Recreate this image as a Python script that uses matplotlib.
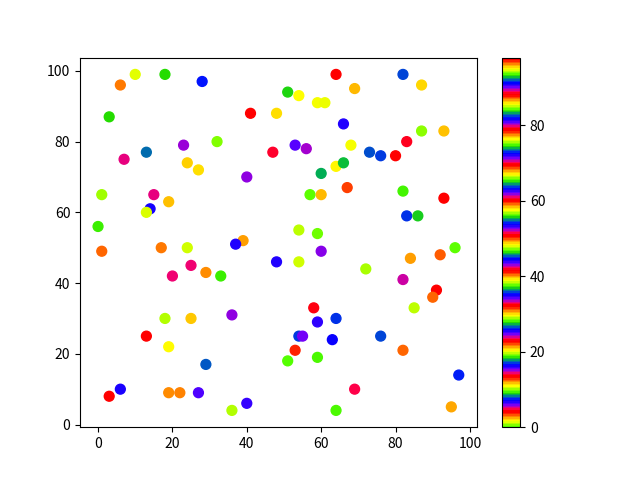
import numpy as np
import matplotlib
matplotlib.use('Agg')
import matplotlib.pyplot as plt

plt.rcParams['font.family'] = ['Noto Sans CJK SC', 'DejaVu Sans']

# 点的坐标
x = [6, 10, 18, 28, 3, 41, 7, 13, 23, 32,
     24, 27, 40, 1, 15, 19, 14, 13, 0, 51,
     54, 59, 61, 64, 69, 82, 87, 48, 66, 87,
     93, 47, 53, 56, 68, 73, 76, 80, 83, 64,
     66, 60, 67, 57, 60, 82, 93, 83, 86, 54,
     59, 96, 39, 1, 17, 24, 37, 25, 20, 29,
     33, 18, 25, 36, 13, 19, 29, 3, 6, 19,
     22, 27, 36, 40, 48, 54, 60, 72, 84, 92,
     82, 91, 90, 85, 58, 59, 64, 54, 55, 63,
     76, 53, 82, 51, 59, 97, 69, 64, 95]
y = [96, 99, 99, 97, 87, 88, 75, 77, 79, 80,
     74, 72, 70, 65, 65, 63, 61, 60, 56, 94,
     93, 91, 91, 99, 95, 99, 96, 88, 85, 83,
     83, 77, 79, 78, 79, 77, 76, 76, 80, 73,
     74, 71, 67, 65, 65, 66, 64, 59, 59, 55,
     54, 50, 52, 49, 50, 50, 51, 45, 42, 43,
     42, 30, 30, 31, 25, 22, 17, 8, 10, 9,
     9, 9, 4, 6, 46, 46, 49, 44, 47, 48,
     41, 38, 36, 33, 33, 29, 30, 25, 25, 24,
     25, 21, 21, 18, 19, 14, 10, 4, 5]
# 颜色值
c = [68.4, 48.0, 27.7, 82.2, 74.3, 98.0, 33.0, 63.95, 43.1, 93.8,
     20.7, 76.6, 15.0, 57.0, 79.9, 11.6, 63.0, 29.3, 37.5, 55.6,
     11.0, 85.6, 66.8, 97.3, 77.0, 35.75, 48.8, 30.1, 72.0, 19.5,
     58.2, 60.8, 34.1, 24.4, 38.7, 54.55, 17.05, 79.0, 42.0, 48.5,
     46.2, 8.7, 87.4, 65.7, 77.3, 9.4, 32.1, 45.15, 83.7, 66.4,
     56.3, 18.8, 39.9, 59.0, 21.5, 10.5, 25.5, 61.2, 14.3, 77.7,
     83.9, 47.6, 39.7, 61.9, 13.4, 76.2, 73.25, 88.4, 44.2, 30.9,
     49.6, 52.9, 94.5, 15.7, 72.3, 57.4, 80.6, 28.8, 86.8, 31.2,
     89.3, 50.9, 12.4, 19.9, 23.3, 34.8, 45.0, 63.8, 71.3, 7.2,
     35.7, 50.4, 59.3, 0.0, 75.0, 7.65, 4.9, 28.1, 67.9]

plt.scatter(x, y, c=c, cmap='prism_r', s=50)
plt.colorbar()

plt.savefig('out.png')
